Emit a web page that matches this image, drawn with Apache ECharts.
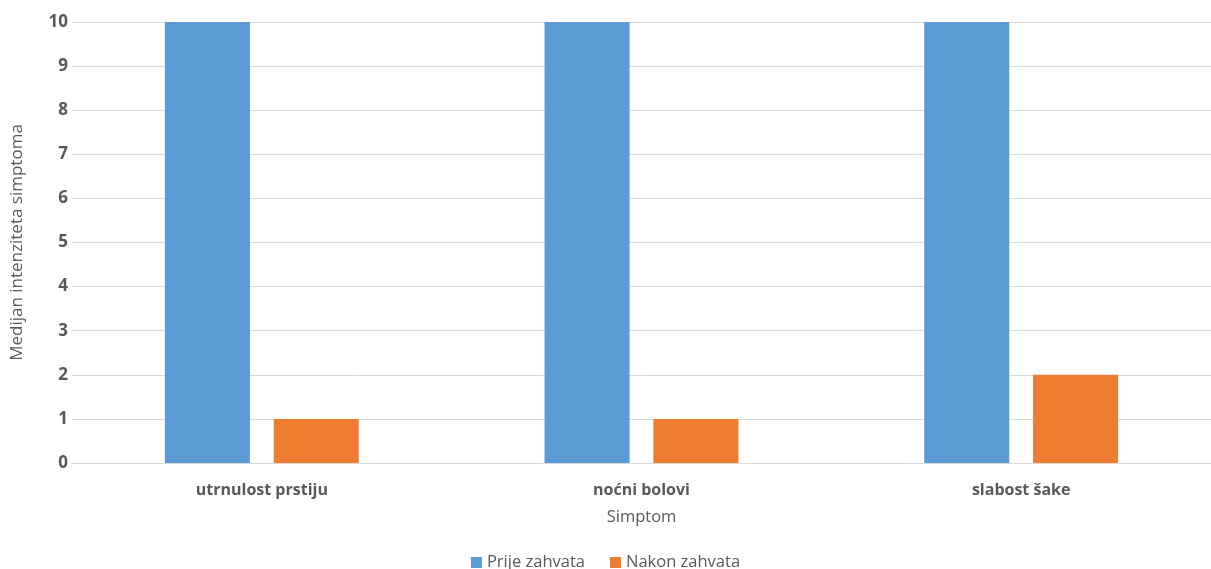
<!DOCTYPE html>
<html><head><meta charset="utf-8">
<script src="https://cdn.jsdelivr.net/npm/echarts@6/dist/echarts.min.js"></script>
<style>html,body{margin:0;padding:0;background:#fff}#c{width:1211px;height:569px}</style>
</head><body><div id="c"></div>
<script>
var categories = ['utrnulost prstiju', 'noćni bolovi', 'slabost šake'];
var prije = [10, 10, 10];
var nakon = [1, 1, 2];
var yTicks = [0, 10, 1];
var F = 'Open Sans';
var chart = echarts.init(document.getElementById('c'));
chart.setOption({
  animation: false,
  grid: {left: 72, right: 0, top: 22, bottom: 106, containLabel: false},
  legend: {bottom: -7, left: 'center', itemWidth: 11, itemHeight: 11, itemGap: 25, icon: 'rect',
    textStyle: {fontFamily: F, fontSize: 16.5, color: '#595959'},
    data: ['Prije zahvata', 'Nakon zahvata']},
  xAxis: {type: 'category', data: categories,
    name: 'Simptom', nameLocation: 'middle', nameGap: 46,
    nameTextStyle: {fontFamily: F, fontSize: 16.5, color: '#595959'},
    axisLine: {lineStyle: {color: '#d9d9d9'}}, axisTick: {show: false},
    axisLabel: {fontFamily: F, fontSize: 16, fontWeight: 'bold', color: '#595959', margin: 19}},
  yAxis: {type: 'value', min: yTicks[0], max: yTicks[1], interval: yTicks[2],
    name: 'Medijan intenziteta simptoma', nameLocation: 'middle', nameGap: 46,
    nameTextStyle: {fontFamily: F, fontSize: 17, color: '#595959'},
    axisLine: {show: false}, axisTick: {show: false},
    splitLine: {lineStyle: {color: '#d9d9d9'}},
    axisLabel: {fontFamily: F, fontSize: 17, fontWeight: 'bold', color: '#595959', margin: 4}},
  series: [
    {name: 'Prije zahvata', type: 'bar', data: prije, barWidth: '22.4%', barGap: '28%', itemStyle: {color: '#5b9bd5'}},
    {name: 'Nakon zahvata', type: 'bar', data: nakon, barWidth: '22.4%', itemStyle: {color: '#ed7d31'}}
  ]
});
</script></body></html>
